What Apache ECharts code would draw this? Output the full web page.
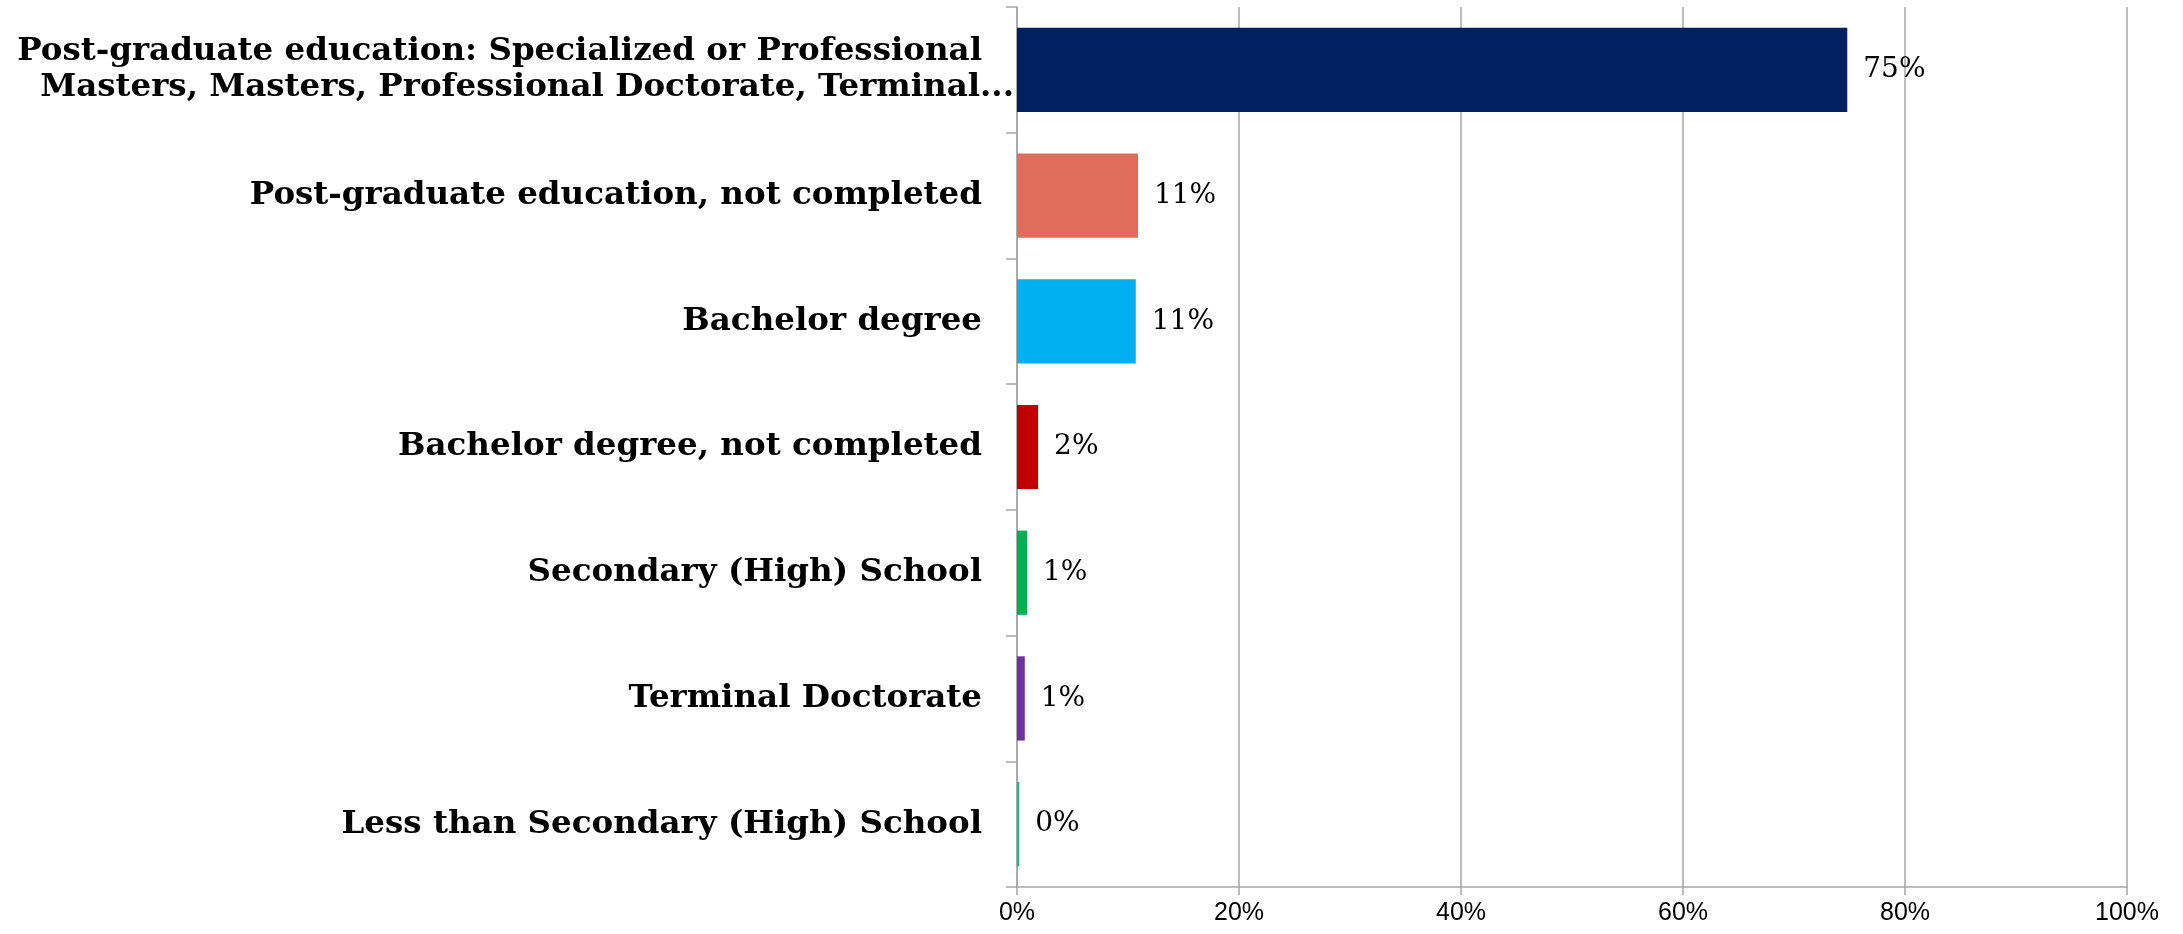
<!DOCTYPE html>
<html>
<head>
<meta charset="utf-8">
<script src="https://cdn.jsdelivr.net/npm/echarts@6/dist/echarts.min.js"></script>
<style>
html,body{margin:0;padding:0;background:#fff;}
#chart{width:2183px;height:934px;}
</style>
</head>
<body>
<div id="chart"></div>
<script>
const categories = [
  "Post-graduate education: Specialized or Professional\nMasters, Masters, Professional Doctorate, Terminal...",
  "Post-graduate education, not completed",
  "Bachelor degree",
  "Bachelor degree, not completed",
  "Secondary (High) School",
  "Terminal Doctorate",
  "Less than Secondary (High) School"
];
const values = [74.8, 10.9, 10.7, 1.9, 0.9, 0.7, 0.2];
const labels = ["75%", "11%", "11%", "2%", "1%", "1%", "0%"];
const barColors = ["#002060", "#E06C5C", "#00B0F0", "#C00000", "#00B050", "#7030A0", "#1DB584"];
const xTicks = [0, 20, 40, 60, 80, 100];

const chart = echarts.init(document.getElementById('chart'));
chart.setOption({
  animation: false,
  grid: { left: 1017, right: 56, top: 7, bottom: 47, containLabel: false },
  xAxis: {
    type: 'value', min: 0, max: 100, interval: 20,
    axisLine: { show: true, lineStyle: { color: '#A6A6A6', width: 1.5 } },
    axisTick: { show: true, length: 8, lineStyle: { color: '#A6A6A6', width: 1.5 } },
    splitLine: { show: true, lineStyle: { color: '#A6A6A6', width: 1.5 } },
    axisLabel: {
      margin: 14, color: '#000', fontFamily: 'Liberation Sans', fontSize: 25,
      formatter: v => xTicks.includes(v) ? v + '%' : ''
    }
  },
  yAxis: {
    type: 'category', inverse: true, data: categories,
    axisLine: { show: true, lineStyle: { color: '#A6A6A6', width: 1.5 } },
    axisTick: { show: true, length: 11, lineStyle: { color: '#A6A6A6', width: 1.5 } },
    axisLabel: {
      margin: 35, color: '#000', fontFamily: 'DejaVu Serif', fontWeight: 'bold',
      fontSize: 32.5, lineHeight: 36, align: 'right',
      formatter: v => {
        const parts = v.split('\n');
        if (parts.length === 2) return '{a|' + parts[0] + '}\n{b|' + parts[1] + '}';
        return v;
      },
      rich: {
        a: { fontFamily: 'DejaVu Serif', fontWeight: 'bold', fontSize: 32.5, lineHeight: 36, color: '#000', padding: [0, 0, 0, 0] },
        b: { fontFamily: 'DejaVu Serif', fontWeight: 'bold', fontSize: 32.5, lineHeight: 36, color: '#000', padding: [0, -32, 0, 0] }
      }
    }
  },
  series: [{
    type: 'bar',
    data: values.map((v, i) => ({ value: v, itemStyle: { color: barColors[i] } })),
    barCategoryGap: '33%',
    label: {
      show: true, position: 'right', distance: 16,
      fontFamily: 'DejaVu Serif', fontSize: 28, color: '#000',
      formatter: p => labels[p.dataIndex]
    }
  }]
});
</script>
</body>
</html>
